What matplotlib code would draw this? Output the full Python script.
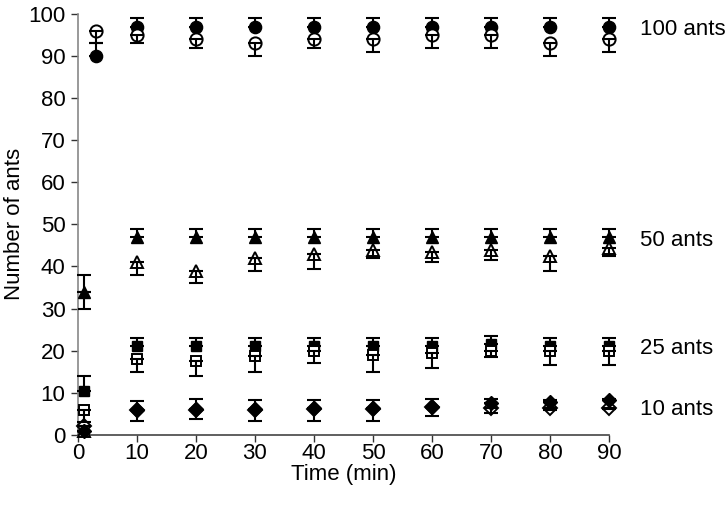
import numpy as np
import matplotlib.pyplot as plt

plt.rcParams['font.family'] = ['Liberation Sans', 'DejaVu Sans']

# sampling times (min); the 100-ant colonies were first counted at 3 min
time = [1, 10, 20, 30, 40, 50, 60, 70, 80, 90]
time_100 = [3, 10, 20, 30, 40, 50, 60, 70, 80, 90]

# 100 ants
filled_100 = [90, 97, 97, 97, 97, 97, 97, 97, 97, 97]
filled_100_err = [3, 2, 2, 2, 2, 2, 2, 2, 2, 2]
open_100 = [96, 95, 94, 93, 94, 94, 95, 95, 93, 94]
open_100_err = [3, 2, 2, 3, 2, 3, 3, 3, 3, 3]

# 50 ants
filled_50 = [34, 47, 47, 47, 47, 47, 47, 47, 47, 47]
filled_50_err = [4, 2, 2, 2, 2, 2, 2, 2, 2, 2]
open_50 = [1, 41, 39, 42, 43, 44, 43.5, 44, 42.5, 44.5]
open_50_err = [0, 3, 3, 3, 3.5, 2, 2.5, 2.5, 3.5, 2]

# 25 ants
filled_25 = [10.5, 21, 21, 21, 21, 21, 21, 21.5, 21, 21]
filled_25_err = [3.5, 2, 2, 2, 2, 2, 2, 2, 2, 2]
open_25 = [6, 18, 17.5, 18.7, 20, 19, 19.5, 20, 20, 20]
open_25_err = [3, 3, 3.5, 3.7, 3, 4, 3.5, 1.5, 3.3, 3.3]

# 10 ants
filled_10 = [1, 6, 6.2, 6.2, 6.3, 6.3, 6.7, 7.6, 7.8, 8.3]
filled_10_err = [1, 2, 2.3, 2, 2, 2, 1.8, 1, 0.5, 0.3]
open_10 = [2, 5.8, 6.0, 6.0, 6.1, 6.1, 6.5, 6.3, 6.3, 6.4]
open_10_err = [1, 2.5, 2.2, 2.7, 2.7, 2.7, 2.0, 1.1, 0.5, 0.3]

group_labels = ['100 ants', '50 ants', '25 ants', '10 ants']
label_y = [96.2, 46.2, 20.4, 6.0]

FS = 16

fig = plt.figure(figsize=(7.28, 5.08), dpi=100)
ax = fig.add_axes([0.107, 0.144, 0.7295, 0.8285])

# (times, filled, +err, open, -err, marker, size, open drawn over filled)
series = [
    (time_100, filled_100, filled_100_err, open_100, open_100_err, 'o', 8.8, True),
    (time, filled_50, filled_50_err, open_50, open_50_err, '^', 8.8, True),
    (time, filled_25, filled_25_err, open_25, open_25_err, 's', 7.8, True),
    (time, filled_10, filled_10_err, open_10, open_10_err, 'D', 7.5, False),
]

for t, yf, ef, yo, eo, mk, ms, open_top in series:
    t = np.asarray(t)
    ef = np.asarray(ef)
    eo = np.asarray(eo)
    zf, zo = (3, 4) if open_top else (4, 3)
    # filled markers carry the upper error bar, open markers the lower one
    ax.plot(t, yf, linestyle='none', marker=mk, ms=ms, color='black',
            zorder=zf, clip_on=False)
    ax.plot(t, yo, linestyle='none', marker=mk, ms=ms, mfc='white',
            mec='black', mew=1.4, zorder=zo, clip_on=False)
    for y, err in [(yf, [np.zeros_like(ef), ef]), (yo, [eo, np.zeros_like(eo)])]:
        eb = ax.errorbar(t, y, yerr=err, fmt='none', ecolor='black',
                         elinewidth=1.5, capsize=5, capthick=1.5, zorder=5)
        for art in eb.lines[1] + eb.lines[2]:
            art.set_clip_on(False)

# the 50-ant filled point at 1 min also has a lower bar
ax.errorbar([time[0]], [filled_50[0]], yerr=[[filled_50_err[0]], [0]],
            fmt='none', ecolor='black', elinewidth=1.5, capsize=5,
            capthick=1.5, zorder=5)

for lab, yl in zip(group_labels, label_y):
    ax.text(95.3, yl, lab, fontsize=FS, va='center', ha='left', clip_on=False)

ax.set_xlim(0, 90)
ax.set_ylim(0, 100)
ax.set_xticks(np.arange(0, 91, 10))
ax.set_yticks(np.arange(0, 101, 10))
ax.tick_params(labelsize=FS, direction='out', length=5, width=1,
               colors='#333333', labelcolor='black')
ax.tick_params(axis='x', pad=1)
ax.tick_params(axis='y', pad=4)
ax.set_xlabel('Time (min)', fontsize=FS, labelpad=0)
ax.set_ylabel('Number of ants', fontsize=FS, va='center')
ax.yaxis.set_label_coords(-0.12, 0.5)

for side in ['top', 'right']:
    ax.spines[side].set_visible(False)
ax.spines['left'].set_color('#888888')
ax.spines['bottom'].set_color('#444444')
ax.spines['left'].set_linewidth(1.2)
ax.spines['bottom'].set_linewidth(1.2)

fig.savefig('out.png', dpi=100)
